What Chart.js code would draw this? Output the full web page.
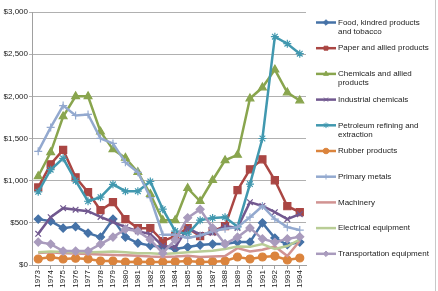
<!DOCTYPE html>
<html lang="en">
<head>
  <meta charset="UTF-8">
  <title>Chart</title>
  <script src="https://cdn.jsdelivr.net/npm/chart.js"></script>
  <style>
    html, body { margin: 0; padding: 0; background: #fff; }
    .wrap { position: relative; width: 438px; height: 291px; }
  </style>
</head>
<body>
  <div class="wrap"><canvas id="chart"></canvas></div>
  <script>
    // data
    const years = ['1973', '1974', '1975', '1976', '1977', '1978', '1979', '1980', '1981', '1982', '1983',
      '1984', '1985', '1986', '1987', '1988', '1989', '1990', '1991', '1992', '1993', '1994'];
    const seriesNames = ['Food, kindred products and tobacco', 'Paper and allied products',
      'Chemicals and allied products', 'Industrial chemicals', 'Petroleum refining and extraction',
      'Rubber products', 'Primary metals', 'Machinery', 'Electrical equipment', 'Transportation equipment'];

    const food = [544, 520, 437, 455, 378, 331, 544, 331, 260, 230, 213, 190, 213, 236, 248, 248, 272, 272, 500, 320, 240, 272];
    const paper = [920, 1194, 1365, 1040, 863, 650, 745, 544, 437, 437, 284, 343, 437, 343, 402, 461, 887, 1135, 1253, 1005, 697, 626];
    const chemicals = [1052, 1336, 1761, 2000, 2000, 1580, 1371, 1270, 1100, 840, 530, 530, 910, 756, 1005, 1241, 1305, 1974, 2104, 2317, 2045, 1950];
    const industrial = [370, 567, 674, 656, 638, 570, 510, 449, 400, 366, 225, 210, 440, 360, 380, 461, 440, 745, 700, 626, 544, 603];
    const petroleum = [868, 1130, 1265, 1000, 756, 804, 957, 875, 875, 990, 662, 402, 366, 532, 556, 567, 455, 960, 1500, 2707, 2624, 2506];
    const rubber = [71, 95, 71, 80, 71, 47, 47, 35, 40, 35, 35, 40, 47, 35, 40, 47, 95, 71, 95, 106, 59, 83];
    const primaryMetals = [1348, 1631, 1891, 1773, 1785, 1501, 1442, 1217, 1099, 800, 360, 360, 320, 350, 400, 430, 449, 567, 700, 544, 449, 414];
    const machinery = [142, 150, 140, 135, 130, 125, 120, 115, 110, 100, 95, 100, 110, 95, 100, 106, 200, 160, 180, 220, 106, 284];
    const electrical = [150, 160, 155, 150, 150, 155, 160, 150, 140, 140, 130, 140, 150, 160, 170, 189, 220, 215, 248, 189, 225, 300];
    const transport = [272, 248, 165, 165, 165, 248, 331, 425, 402, 300, 140, 300, 560, 660, 440, 250, 330, 440, 310, 270, 310, 335];

    const colors = ['#4572A7', '#AA4643', '#89A54E', '#71588F', '#4198AF', '#DB843D', '#93A9CF', '#D19392', '#B9CD96', '#A99BBD'];
    const markers = ['rectRot', 'rect', 'triangle', 'crossRot', 'star', 'circle', 'cross', null, null, 'rectRot'];
    const markerSizes = [4, 5, 4.5, 4, 4, 4, 4, 0, 0, 4];
    const allSeries = [food, paper, chemicals, industrial, petroleum, rubber, primaryMetals, machinery, electrical, transport];

    const FONT = '"Liberation Sans", Arial, sans-serif';

    const datasets = allSeries.map((values, i) => {
      return {
        label: seriesNames[i],
        data: values,
        borderColor: colors[i],
        backgroundColor: colors[i],
        borderWidth: 2.5,
        tension: 0,
        pointStyle: markers[i] || 'circle',
        pointRadius: markers[i] ? markerSizes[i] : 0,
        pointBorderWidth: 1.2,
        pointBackgroundColor: colors[i],
        pointBorderColor: colors[i],
        order: 10 - i
      };
    });

    // legend on the right side, text wrapped like the original
    const sideLegend = {
      id: 'sideLegend',
      afterDraw(chart) {
        const ctx = chart.ctx;
        ctx.save();
        ctx.font = '8px ' + FONT;
        ctx.textBaseline = 'middle';
        ctx.fillStyle = '#222';
        const maxW = 97;
        chart.data.datasets.forEach((ds, i) => {
          const y = 22.5 + i * 25.7;
          ctx.strokeStyle = ds.borderColor;
          ctx.lineWidth = 2.5;
          ctx.beginPath();
          ctx.moveTo(316, y);
          ctx.lineTo(336, y);
          ctx.stroke();
          if (markers[i]) {
            ctx.fillStyle = ds.borderColor;
            ctx.lineWidth = 1;
            Chart.helpers.drawPoint(ctx, { pointStyle: markers[i], radius: 2.8, rotation: 0, borderWidth: 1 }, 326, y);
          }
          ctx.fillStyle = '#222';
          const words = ds.label.split(' ');
          const lines = [];
          let cur = '';
          words.forEach(w => {
            const test = cur ? cur + ' ' + w : w;
            if (ctx.measureText(test).width > maxW && cur) {
              lines.push(cur);
              cur = w;
            } else {
              cur = test;
            }
          });
          lines.push(cur);
          lines.forEach((t, k) => ctx.fillText(t, 338, y + k * 9.3));
        });
        // chart frame right edge
        ctx.strokeStyle = '#c8c8c8';
        ctx.lineWidth = 1;
        ctx.beginPath();
        ctx.moveTo(435.5, 0);
        ctx.lineTo(435.5, 291);
        ctx.stroke();
        ctx.restore();
      }
    };

    new Chart(document.getElementById('chart'), {
      type: 'line',
      data: { labels: years, datasets: datasets },
      plugins: [sideLegend],
      options: {
        responsive: true,
        maintainAspectRatio: false,
        animation: false,
        devicePixelRatio: 1,
        layout: { padding: { top: 12, right: 132, left: 0, bottom: 0 } },
        plugins: {
          legend: { display: false },
          tooltip: { enabled: false }
        },
        scales: {
          x: {
            offset: true,
            afterFit: s => { s.height = 26; },
            grid: {
              display: true,
              drawOnChartArea: false,
              drawTicks: true,
              tickLength: 4,
              color: '#a0a0a0'
            },
            border: { color: '#a0a0a0' },
            ticks: {
              minRotation: 90,
              maxRotation: 90,
              autoSkip: false,
              padding: 1,
              color: '#222',
              font: { family: FONT, size: 8 }
            }
          },
          y: {
            min: 0,
            max: 3000,
            afterFit: s => { s.width = 32; },
            grid: {
              color: '#b0b0b0',
              tickLength: 3
            },
            border: { color: '#a0a0a0' },
            ticks: {
              stepSize: 500,
              padding: 1,
              color: '#222',
              font: { family: FONT, size: 8 },
              callback: v => '$' + v.toLocaleString('en-US')
            }
          }
        }
      }
    });
  </script>
</body>
</html>
